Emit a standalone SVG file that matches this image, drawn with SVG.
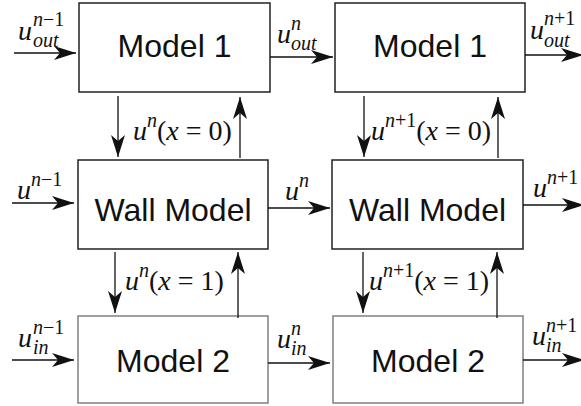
<svg xmlns="http://www.w3.org/2000/svg" width="581" height="406" viewBox="0 0 581 406">
<style>
.box{fill:#fff;stroke:#222;stroke-width:1.5}
.box2{fill:#fff;stroke:#808080;stroke-width:1.5}
.lbl{font-family:"Liberation Sans",Arial,sans-serif;font-size:32px;fill:#111;text-anchor:middle}
.m{font-family:"Liberation Serif","Times New Roman",serif;font-size:28px;font-style:italic;fill:#111}
.s{font-size:20px}
.r{font-style:normal}
.c{fill:none;stroke:#111;stroke-width:1.3;marker-end:url(#ah)}
</style>
<defs>
<marker id="ah" viewBox="0 0 22 14" refX="22" refY="7" markerWidth="22" markerHeight="14" markerUnits="userSpaceOnUse" orient="auto">
<path d="M0,0 L22,7 L0,14 L6,7 Z" fill="#111"/>
</marker>
</defs>
<g id="model1a"><rect class="box" x="79" y="3" width="191" height="89"/><text class="lbl" x="174.5" y="57">Model 1</text></g>
<g id="model1b"><rect class="box" x="335" y="3" width="190" height="89"/><text class="lbl" x="430" y="57">Model 1</text></g>
<g id="walla"><rect class="box" x="78" y="160" width="190" height="89"/><text class="lbl" x="173" y="221">Wall Model</text></g>
<g id="wallb"><rect class="box" x="332" y="160" width="191" height="89"/><text class="lbl" x="427.5" y="221">Wall Model</text></g>
<g id="model2a"><rect class="box2" x="78" y="316" width="190" height="87"/><text class="lbl" x="173" y="372">Model 2</text></g>
<g id="model2b"><rect class="box2" x="333" y="316" width="190" height="87"/><text class="lbl" x="428" y="372">Model 2</text></g>
<g id="connectors">
<path class="c" d="M14,53 H76"/>
<path class="c" d="M270,57 H333"/>
<path class="c" d="M525,55 H583"/>
<path class="c" d="M12,203 H74"/>
<path class="c" d="M268,208 H330"/>
<path class="c" d="M523,205 H584"/>
<path class="c" d="M12,360 H74"/>
<path class="c" d="M268,363 H330"/>
<path class="c" d="M523,360 H584"/>
<path class="c" d="M118,96 V157"/>
<path class="c" d="M240,158 V97"/>
<path class="c" d="M364,96 V157"/>
<path class="c" d="M498,158 V97"/>
<path class="c" d="M115,252 V313"/>
<path class="c" d="M238,318 V252"/>
<path class="c" d="M363,252 V313"/>
<path class="c" d="M497,318 V252"/>
</g>
<g id="labels">
<text class="m" x="18" y="40">u</text><text class="m s" x="33" y="26">n<tspan class="r">−1</tspan></text><text class="m s" x="33" y="47">out</text>
<text class="m" x="277" y="43">u</text><text class="m s" x="291" y="30">n</text><text class="m s" x="291" y="50">out</text>
<text class="m" x="530" y="39">u</text><text class="m s" x="544" y="25">n<tspan class="r">+1</tspan></text><text class="m s" x="544" y="47">out</text>
<text class="m" x="17" y="199">u</text><text class="m s" x="31" y="186">n<tspan class="r">−1</tspan></text>
<text class="m" x="285" y="200">u</text><text class="m s" x="299" y="187">n</text>
<text class="m" x="533" y="197">u</text><text class="m s" x="547" y="184">n<tspan class="r">+1</tspan></text>
<text class="m" x="18" y="347">u</text><text class="m s" x="33" y="334">n<tspan class="r">−1</tspan></text><text class="m s" x="33" y="354">in</text>
<text class="m" x="277" y="348">u</text><text class="m s" x="291" y="335">n</text><text class="m s" x="291" y="355">in</text>
<text class="m" x="532" y="345">u</text><text class="m s" x="546" y="332">n<tspan class="r">+1</tspan></text><text class="m s" x="546" y="352">in</text>
<text class="m" x="133" y="140">u<tspan class="s" dy="-13">n</tspan><tspan class="r" dy="13">(</tspan>x<tspan class="r"> = 0)</tspan></text>
<text class="m" x="371" y="140">u<tspan class="s" dy="-13">n<tspan class="r">+1</tspan></tspan><tspan class="r" dy="13">(</tspan>x<tspan class="r"> = 0)</tspan></text>
<text class="m" x="125" y="290">u<tspan class="s" dy="-13">n</tspan><tspan class="r" dy="13">(</tspan>x<tspan class="r"> = 1)</tspan></text>
<text class="m" x="369" y="290">u<tspan class="s" dy="-13">n<tspan class="r">+1</tspan></tspan><tspan class="r" dy="13">(</tspan>x<tspan class="r"> = 1)</tspan></text>
</g>
</svg>
